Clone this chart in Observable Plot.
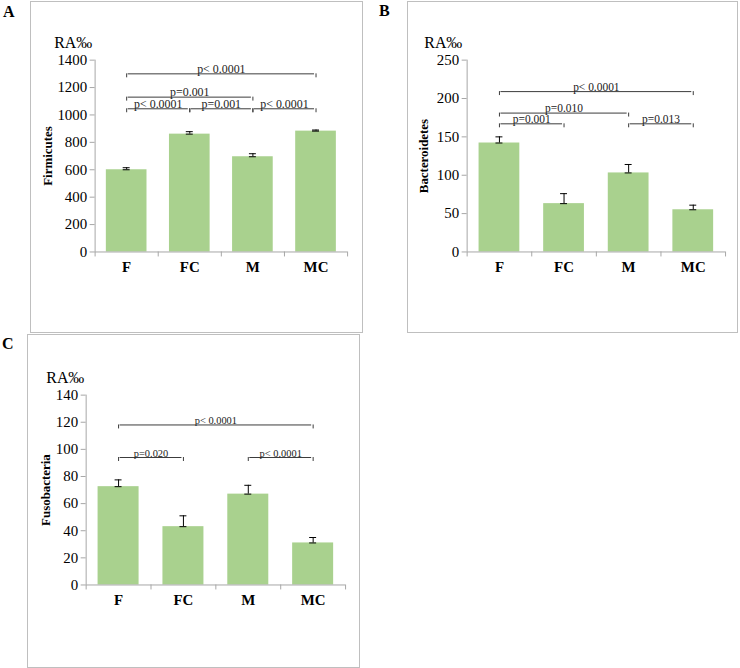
<!DOCTYPE html>
<html><head><meta charset="utf-8">
<script src="https://cdn.jsdelivr.net/npm/d3@7"></script>
<script src="https://cdn.jsdelivr.net/npm/@observablehq/plot@0.6"></script>
<style>
body{margin:0;background:#fff;font-family:"Liberation Serif",serif;}
#root{position:relative;width:740px;height:668px;overflow:hidden;}
.panel{position:absolute;border:1px solid #bfbfbf;box-sizing:border-box;}
.panel svg{position:absolute;left:-1px;top:-1px;}
.panel svg text{font-family:"Liberation Serif",serif;}
.letter{position:absolute;font-weight:bold;font-size:16px;line-height:1;}
</style></head><body><div id="root"></div>
<script>
const groups = ["F", "FC", "M", "MC"];

const firmicutes = [600, 860, 695, 882];
const firmicutesErr = [15, 18, 22, 8];
const firmicutesTicks = [0, 200, 400, 600, 800, 1000, 1200, 1400];
const firmicutesP = [
  ["F", "MC", 1300, "p< 0.0001"],
  ["F", "M", 1130, "p=0.001"],
  ["F", "FC", 1045, "p< 0.0001"],
  ["FC", "M", 1045, "p=0.001"],
  ["M", "MC", 1045, "p< 0.0001"]
];

const bacteroidetes = [142, 63, 103, 55];
const bacteroidetesErr = [8, 13, 11, 6];
const bacteroidetesTicks = [0, 50, 100, 150, 200, 250];
const bacteroidetesP = [
  ["F", "MC", 209, "p< 0.0001"],
  ["F", "M", 181, "p=0.010"],
  ["F", "FC", 167, "p=0.001"],
  ["M", "MC", 167, "p=0.013"]
];

const fusobacteria = [72.5, 43, 67, 31];
const fusobacteriaErr = [5, 8, 6.5, 4];
const fusobacteriaTicks = [0, 20, 40, 60, 80, 100, 120, 140];
const fusobacteriaP = [
  ["F", "MC", 118, "p< 0.0001"],
  ["F", "FC", 94, "p=0.020"],
  ["M", "MC", 94, "p< 0.0001"]
];

const axisGrey = "#a6a6a6";
const barGreen = "#a9d18e";
const serif = '"Liberation Serif", serif';
const root = document.getElementById("root");

function panel(o) {
  const div = document.createElement("div");
  div.className = "panel";
  Object.assign(div.style, {left: o.box[0] + "px", top: o.box[1] + "px", width: o.box[2] + "px", height: o.box[3] + "px"});
  const gi = g => groups.indexOf(g);
  const rows = groups.map((g, i) => ({i, g, v: o.values[i], e: o.errs[i]}));
  const br = o.pvals.map(([a, b, h, t]) => ({x1: gi(a), x2: gi(b), h, t}));
  const ends = br.flatMap(d => [{x: d.x1, h: d.h}, {x: d.x2, h: d.h}]);
  const ymax = o.ticks[o.ticks.length - 1];
  const boundaries = d3.range(-0.5, groups.length, 1);
  const chart = Plot.plot({
    width: o.box[2], height: o.box[3],
    marginLeft: o.m[0], marginRight: o.m[1], marginTop: o.m[2], marginBottom: o.m[3],
    x: {domain: [-0.5, groups.length - 0.5], axis: null},
    y: {domain: [0, ymax], axis: null},
    style: {fontFamily: serif, fontSize: "15px", background: "transparent", overflow: "visible", color: "black"},
    marks: [
      Plot.rectY(rows, {x1: d => d.i - 0.5, x2: d => d.i + 0.5, y: "v", fill: barGreen, insetLeft: o.inset, insetRight: o.inset}),
      Plot.ruleX([-0.5], {stroke: axisGrey}),
      Plot.ruleY([0], {stroke: axisGrey}),
      Plot.axisY({ticks: o.ticks, tickSize: 5, tickPadding: 3, stroke: axisGrey, tickFormat: d3.format("d"), label: null, fontSize: 15, fontFamily: serif, fontVariant: "normal"}),
      Plot.axisX({ticks: boundaries, tickSize: 5, tickPadding: 0, stroke: axisGrey, tickFormat: () => "", label: null}),
      Plot.axisX({ticks: rows.map(d => d.i), tickSize: 0, tickPadding: 9, tickFormat: i => groups[i], fontWeight: "bold", fontSize: 15, fontFamily: serif, label: null}),
      Plot.ruleX(rows, {x: "i", y1: "v", y2: d => d.v + d.e, stroke: "black"}),
      Plot.ruleY(rows, {x1: "i", x2: "i", y: d => d.v + d.e, insetLeft: -3.5, insetRight: -3.5, stroke: "black"}),
      Plot.ruleY(rows, {x1: "i", x2: "i", y: "v", insetLeft: -3.5, insetRight: -3.5, stroke: "black"}),
      Plot.ruleY(br, {x1: "x1", x2: "x2", y: "h", stroke: "#3a3a3a", insetLeft: 1.5, insetRight: 1.5}),
      Plot.ruleX(ends, {x: "x", y1: "h", y2: "h", insetBottom: -4, stroke: "#3a3a3a"}),
      Plot.text(br, {x: d => (d.x1 + d.x2) / 2, y: "h", text: "t", lineAnchor: "bottom", dy: -1, fontSize: o.pFont, fill: "#222"}),
      Plot.text([o.ylabel], {frameAnchor: "left", textAnchor: "middle", rotate: -90, dx: o.ylabelDx, fontWeight: "bold", fontSize: 13}),
      Plot.text(["RA‰"], {frameAnchor: "top-left", textAnchor: "middle", dx: o.raDx, dy: -24, fontSize: 16})
    ]
  });
  div.appendChild(chart);
  root.appendChild(div);
  const L = document.createElement("div");
  L.className = "letter";
  L.textContent = o.letter;
  Object.assign(L.style, {left: o.letterPos[0] + "px", top: o.letterPos[1] + "px"});
  root.appendChild(L);
}

panel({box: [30, 1, 333, 332], m: [65, 14, 59, 80], values: firmicutes, errs: firmicutesErr, ticks: firmicutesTicks,
  pvals: firmicutesP, pFont: 12, ylabel: "Firmicutes", ylabelDx: -48, raDx: -22, inset: 11.3, letter: "A", letterPos: [3, 4]});
panel({box: [407, 1, 331, 332], m: [60, 11, 59, 80], values: bacteroidetes, errs: bacteroidetesErr, ticks: bacteroidetesTicks,
  pvals: bacteroidetesP, pFont: 11.5, ylabel: "Bacteroidetes", ylabelDx: -44, raDx: -24, inset: 12, letter: "B", letterPos: [379, 3]});
panel({box: [27, 334, 333, 334], m: [59, 13, 61, 82], values: fusobacteria, errs: fusobacteriaErr, ticks: fusobacteriaTicks,
  pvals: fusobacteriaP, pFont: 10.5, ylabel: "Fusobacteria", ylabelDx: -41, raDx: -21, inset: 12, letter: "C", letterPos: [2, 336]});
</script></body></html>
